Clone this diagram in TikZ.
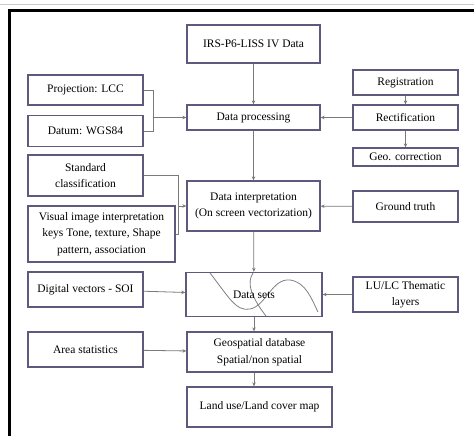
\documentclass[tikz,border=0pt]{standalone}
\usepackage{fontspec}
\setmainfont{Liberation Serif}
\usetikzlibrary{arrows.meta}

\definecolor{boxline}{HTML}{5E5A7E}
\definecolor{linkline}{HTML}{7A7A7A}

\tikzset{
    blk/.style={draw=boxline, line width=1.3pt, fill=white, align=center, inner sep=1pt,
        font=\fontsize{11.5}{16.5}\selectfont},
    link/.style={draw=linkline, line width=0.8pt},
    arr/.style={link, -{Stealth[length=4pt,width=3.5pt]}}
}

\begin{document}
\begin{tikzpicture}[x=1pt,y=-1pt]
    \useasboundingbox (0,0) rectangle (474,436);
    % frame of the page
    \draw[gray!40, line width=1pt] (0,5)--(474,5);
    \draw[line width=3pt] (9.5,436)--(9.5,11)--(474,11);

    % middle column
    \node[blk, minimum width=133pt, minimum height=38pt] (irs) at (253.5,44) {IRS-P6-LISS IV Data};
    \node[blk, minimum width=133pt, minimum height=25pt] (proc) at (253.5,117.5) {Data processing};
    \node[blk, minimum width=133pt, minimum height=50pt] (interp) at (253.5,206) {Data interpretation\\(On screen vectorization)};
    \node[blk, minimum width=136pt, minimum height=44pt] (dsets) at (254,294.5) {};
    \node[blk, minimum width=145pt, minimum height=40pt] (geodb) at (259.5,352) {Geospatial database\\Spatial/non spatial};
    \node[blk, minimum width=145pt, minimum height=40pt] (lulcmap) at (259.5,407) {Land use/Land cover map};

    % wavy lines in the data sets box
    \draw[gray, line width=0.8pt] (210,273) .. controls (228,296) and (236,312) .. (250,309)
        .. controls (266,306) and (272,278) .. (290,280) .. controls (306,282) and (312,300) .. (318,312);
    \draw[gray, line width=0.8pt] (253,273) .. controls (246,283) and (252,298) .. (266,316);
    \node[font=\fontsize{11.5}{13}\selectfont] (dtext) at (dsets) {Data sets};

    % left column
    \node[blk, minimum width=115pt, minimum height=30pt] (proj) at (85.5,90) {Projection: LCC};
    \node[blk, minimum width=115pt, minimum height=31pt] (datum) at (85.5,131) {Datum: WGS84};
    \node[blk, minimum width=115pt, minimum height=41pt] (std) at (85.5,175.5) {Standard\\classification};
    \node[blk, minimum width=147pt, minimum height=56pt] (vis) at (101.5,234) {Visual image interpretation\\keys Tone, texture, Shape\\pattern, association};
    \node[blk, minimum width=115pt, minimum height=35pt] (dig) at (85.5,289.5) {Digital vectors - SOI};
    \node[blk, minimum width=115pt, minimum height=35pt] (area) at (85.5,349.5) {Area statistics};

    % right column
    \node[blk, minimum width=105pt, minimum height=25pt] (reg) at (405.5,82.5) {Registration};
    \node[blk, minimum width=105pt, minimum height=25pt] (rect) at (405.5,117.5) {Rectification};
    \node[blk, minimum width=105pt, minimum height=18pt] (geo) at (405.5,157) {Geo. correction};
    \node[blk, minimum width=105pt, minimum height=31pt] (ground) at (405.5,206.5) {Ground truth};
    \node[blk, minimum width=105pt, minimum height=35pt] (lulc) at (405.5,294.5) {LU/LC Thematic\\layers};

    % joints of the brackets
    \coordinate (j1) at (153,117.5);
    \coordinate (j2) at (178,206);

    % connectors
    \draw[arr] (irs) -- (proc);
    \draw[arr] (proc) -- (interp);
    \draw[arr] (interp) -- (dsets);
    \draw[arr] (dsets.south) -- (dsets.south |- geodb.north);
    \draw[arr] (dsets.south |- geodb.south) -- (dsets.south |- lulcmap.north);

    \draw[link] (proj.east) -| (j1);
    \draw[link] (datum.east) -| (j1);
    \draw[arr] (j1) -- (proc.west);
    \draw[link] (std.east) -| (j2);
    \draw[link] (vis.east) -| (j2);
    \draw[arr] (j2) -- (interp.west);
    \draw[arr] (dig) -- (dsets);
    \draw[arr] (area) -- (geodb);

    \draw[arr] (reg) -- (rect);
    \draw[arr] (rect) -- (geo);
    \draw[arr] (rect) -- (proc);
    \draw[arr] (ground) -- (interp);
    \draw[arr] (lulc) -- (dsets);
\end{tikzpicture}
\end{document}
